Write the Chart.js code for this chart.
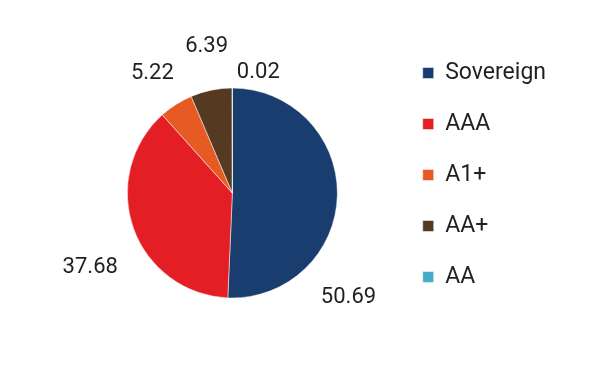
<!DOCTYPE html>
<html>
<head>
<meta charset="utf-8">
<script src="https://cdn.jsdelivr.net/npm/chart.js@4/dist/chart.umd.min.js"></script>
<style>
  html, body { margin: 0; padding: 0; background: #ffffff; }
  #wrap { width: 609px; height: 380px; }
</style>
</head>
<body>
<div id="wrap"><canvas id="c" width="609" height="380"></canvas></div>
<script>
// ---- data ----
const categories = ["Sovereign", "AAA", "A1+", "AA+", "AA"];
const values = [50.69, 37.68, 5.22, 6.39, 0.02];
const valueLabels = ["50.69", "37.68", "5.22", "6.39", "0.02"];

// ---- style ----
const colors = ["#1a3d70", "#e31e25", "#e85a24", "#553a21", "#46adc8"];
// label placement: angle (deg, clockwise from 3 o'clock) and distance as a multiple of the pie radius
const labelPlacement = [
  { angle: 41.9, dist: 1.486 },
  { angle: 152.2, dist: 1.53 },
  { angle: 236.3, dist: 1.373 },
  { angle: 260.0, dist: 1.412 },
  { angle: 282.2, dist: 1.17 }
];
const FONT = "Roboto, 'Noto Sans', sans-serif";
const TEXT_COLOR = "#231f20";

const valueLabelPlugin = {
  id: "valueLabels",
  afterDatasetsDraw(chart) {
    const meta = chart.getDatasetMeta(0);
    const ctx = chart.ctx;
    ctx.save();
    ctx.font = "22px " + FONT;
    ctx.fillStyle = TEXT_COLOR;
    ctx.textAlign = "center";
    ctx.textBaseline = "middle";
    meta.data.forEach((arc, i) => {
      const p = labelPlacement[i];
      const a = p.angle * Math.PI / 180;
      const r = arc.outerRadius * p.dist;
      ctx.fillText(valueLabels[i], arc.x + Math.cos(a) * r, arc.y + Math.sin(a) * r);
    });
    ctx.restore();
  }
};

new Chart(document.getElementById("c"), {
  type: "pie",
  data: {
    labels: categories,
    datasets: [{
      data: values,
      backgroundColor: colors,
      borderColor: "#ffffff",
      borderWidth: 0.5,
      radius: 105
    }]
  },
  options: {
    responsive: false,
    animation: false,
    events: [],
    layout: { padding: { top: 33.5, bottom: 27.5, left: 70, right: 53 } },
    plugins: {
      tooltip: { enabled: false },
      legend: {
        position: "right",
        align: "start",
        labels: {
          boxWidth: 11,
          boxHeight: 11,
          padding: 28,
          color: TEXT_COLOR,
          font: { size: 23, family: FONT }
        }
      }
    }
  },
  plugins: [valueLabelPlugin]
});
</script>
</body>
</html>
